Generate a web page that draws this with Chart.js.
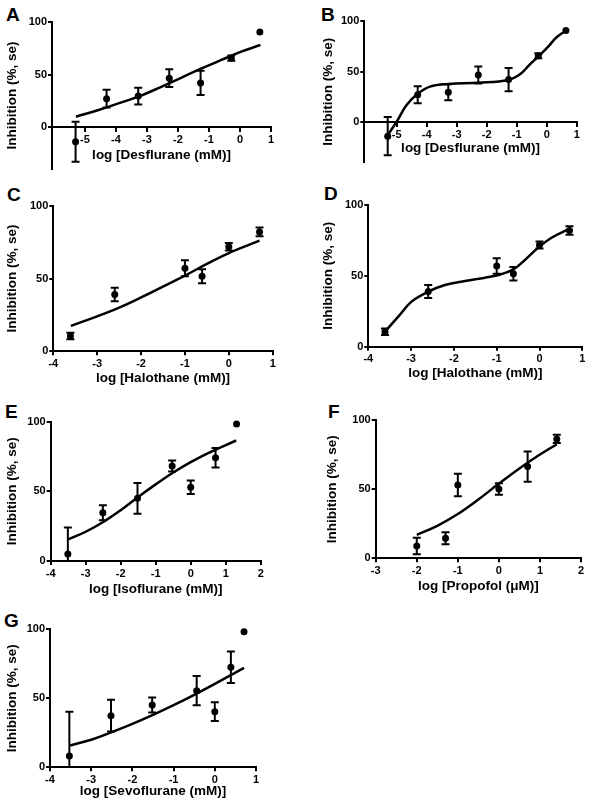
<!DOCTYPE html>
<html>
<head>
<meta charset="utf-8">
<script src="https://cdn.jsdelivr.net/npm/chart.js@4"></script>
<style>
  html, body { margin: 0; padding: 0; background: #fff; }
  body { position: relative; width: 591px; height: 803px; overflow: hidden; }
  canvas { position: absolute; }
  .tag { position: absolute; font: bold 19px/19px 'Liberation Sans', Arial, sans-serif; color: #000; }
</style>
</head>
<body>
<div class="tag" style="left:6px;top:5px">A</div>
<div class="tag" style="left:321px;top:5px">B</div>
<div class="tag" style="left:7px;top:185px">C</div>
<div class="tag" style="left:324px;top:184px">D</div>
<div class="tag" style="left:5px;top:402px">E</div>
<div class="tag" style="left:328px;top:402px">F</div>
<div class="tag" style="left:4px;top:611px">G</div>
<script>
// desflurane (A, B)
const desfluraneX = [-5.3, -4.3, -3.28, -2.28, -1.27, -0.28, 0.64];
const desfluraneY = [-14, 27, 29.5, 46.5, 42, 65.5, 90.5];
const desfluraneErr = [19, 8.5, 8, 8.5, 11.5, 2.5, 0];
const desfluraneFitAX = [-5.29, -4.56, -3.92, -3.28, -2.59, -1.9, -1.26, -0.62, 0.02, 0.66];
const desfluraneFitAY = [9.8, 16.2, 22.5, 28.9, 37.5, 46.8, 55.5, 63.6, 71.5, 78.1];
const desfluraneFitBX = [-5.31, -5.0, -4.67, -4.31, -3.89, -3.28, -2.28, -1.28, -0.89, -0.56, -0.26, 0.05, 0.33, 0.64];
const desfluraneFitBY = [-13.5, 0.3, 16.8, 27.7, 35, 37.6, 38.9, 41.6, 47.2, 57.1, 65.3, 74.6, 83.9, 90.4];
const desfluraneTicks = [-5, -4, -3, -2, -1, 0, 1];

// halothane (C, D)
const halothaneX = [-3.61, -2.6, -1.0, -0.61, 0, 0.7];
const halothaneY = [10.5, 39, 57, 51.5, 71.8, 82];
const halothaneErr = [2.3, 4.6, 5.5, 4.8, 2.5, 3];
const halothaneFitCX = [-3.6, -3, -2.5, -2, -1.5, -1, -0.5, 0, 0.7];
const halothaneFitCY = [17.5, 24, 30, 37, 44.5, 52, 60, 67.5, 76];
const halothaneFitDX = [-3.61, -3.3, -2.99, -2.6, -2.21, -1.74, -1.27, -0.96, -0.61, -0.34, -0.03, 0.28, 0.67];
const halothaneFitDY = [10.6, 21.2, 31.8, 38.8, 43.5, 46.4, 48.7, 50.6, 54.6, 61.2, 69.9, 76.9, 82.8];
const halothaneTicks = [-4, -3, -2, -1, 0, 1];

// isoflurane (E)
const isofluraneX = [-3.51, -2.51, -1.52, -0.53, 0, 0.71, 1.31];
const isofluraneY = [5, 34.7, 45, 68.2, 52.9, 74.2, 98.3];
const isofluraneErr = [19, 5.4, 11, 4, 4.8, 7, 0];
const isofluraneFitX = [-3.5, -3, -2.5, -2, -1.5, -1, -0.5, 0, 0.5, 1.3];
const isofluraneFitY = [15.5, 21, 28, 36.5, 46, 55, 63.5, 71, 77.5, 86.5];
const isofluraneTicks = [-4, -3, -2, -1, 0, 1, 2];

// propofol (F)
const propofolX = [-2, -1.3, -1, 0, 0.7, 1.41];
const propofolY = [8.9, 14.5, 53, 50.1, 66.3, 86.3];
const propofolErr = [5.9, 4.3, 8.2, 4.2, 11, 3];
const propofolFitX = [-2, -1.5, -1, -0.5, 0, 0.5, 1, 1.41];
const propofolFitY = [17, 23.5, 32, 42.5, 54, 65, 75, 82.5];
const propofolTicks = [-3, -2, -1, 0, 1, 2];

// sevoflurane (G)
const sevofluraneX = [-3.53, -2.52, -1.52, -0.44, 0, 0.39, 0.71];
const sevofluraneY = [8.2, 37.4, 45.2, 55.5, 40.3, 72.5, 98.3];
const sevofluraneErr = [32, 11.5, 5.4, 10.6, 6.8, 11.4, 0];
const sevofluraneFitX = [-3.53, -3, -2.5, -2, -1.5, -1, -0.5, 0, 0.71];
const sevofluraneFitY = [15.7, 20, 25.5, 31.5, 38, 45, 52.5, 60.5, 72];
const sevofluraneTicks = [-4, -3, -2, -1, 0, 1];

const yTicks = [0, 50, 100];

const FONT = "'Liberation Sans', Arial, sans-serif";

function toPoints(xs, ys) {
  return xs.map(function (x, i) { return { x: x, y: ys[i] }; });
}

// vertical error bars with caps, cut at the plot area bottom
const errorBars = {
  id: 'errorBars',
  afterDatasetsDraw: function (chart) {
    const ctx = chart.ctx;
    const xs = chart.scales.x;
    const ys = chart.scales.y;
    const area = chart.chartArea;
    const ds = chart.data.datasets[0];
    ctx.save();
    ctx.beginPath();
    ctx.rect(area.left - 10, area.top - 10, area.right - area.left + 20, area.bottom - area.top + 10);
    ctx.clip();
    ctx.strokeStyle = '#000';
    ctx.lineWidth = 2;
    ds.data.forEach(function (p, i) {
      const e = ds.errors[i];
      if (!e) return;
      const x = xs.getPixelForValue(p.x);
      const y1 = ys.getPixelForValue(p.y + e);
      const y2 = ys.getPixelForValue(p.y - e);
      ctx.beginPath();
      ctx.moveTo(x, y1); ctx.lineTo(x, y2);
      ctx.moveTo(x - 4, y1); ctx.lineTo(x + 4, y1);
      ctx.moveTo(x - 4, y2); ctx.lineTo(x + 4, y2);
      ctx.stroke();
    });
    ctx.restore();
  }
};

function makePanel(p) {
  var canvas = document.createElement('canvas');
  canvas.width = p.box[2];
  canvas.height = p.box[3];
  canvas.style.left = p.box[0] + 'px';
  canvas.style.top = p.box[1] + 'px';
  document.body.appendChild(canvas);

  var grid = { display: true, drawOnChartArea: false, drawTicks: true, tickLength: 4, color: '#000', lineWidth: 2 };
  var tickFont = { family: FONT, size: 11, weight: 'bold' };
  var titleFont = { family: FONT, size: 13.5, weight: 'bold' };

  new Chart(canvas, {
    type: 'scatter',
    data: {
      datasets: [
        {
          data: toPoints(p.x, p.y),
          errors: p.err,
          pointRadius: 3.5,
          pointHoverRadius: 3.5,
          backgroundColor: '#000',
          borderColor: '#000',
          borderWidth: 0,
          clip: false
        },
        {
          data: toPoints(p.fitX, p.fitY),
          showLine: true,
          pointRadius: 0,
          borderColor: '#000',
          borderWidth: 2.5,
          tension: 0.4,
          clip: false
        }
      ]
    },
    options: {
      responsive: false,
      animation: false,
      events: [],
      layout: { autoPadding: false, padding: { left: 0, top: p.top, right: p.right, bottom: p.bottom } },
      plugins: { legend: { display: false }, tooltip: { enabled: false } },
      scales: {
        x: {
          type: 'linear',
          min: p.xMin,
          max: p.xMax,
          position: p.xAtZero ? { y: 0 } : 'bottom',
          afterBuildTicks: function (s) { s.ticks = p.xTicks.map(function (v) { return { value: v }; }); },
          afterFit: function (s) { s.height = p.xHeight; },
          grid: grid,
          border: { display: true, color: '#000', width: 2 },
          ticks: { color: '#000', font: tickFont, padding: 2, maxRotation: 0, autoSkip: false },
          title: { display: true, text: p.xTitle, color: '#000', font: titleFont }
        },
        y: {
          type: 'linear',
          min: p.yMin,
          max: 100,
          afterBuildTicks: function (s) { s.ticks = yTicks.map(function (v) { return { value: v }; }); },
          afterFit: function (s) { s.width = p.yWidth; },
          grid: grid,
          border: { display: true, color: '#000', width: 2 },
          ticks: { color: '#000', font: tickFont, padding: 1 },
          title: { display: true, text: 'Inhibition (%, se)', color: '#000', font: titleFont }
        }
      }
    },
    plugins: [errorBars]
  });
}

makePanel({
  box: [0, 0, 295, 200], top: 22, right: 24, bottom: 31, yWidth: 52, xHeight: 40.1,
  xMin: -6.06, xMax: 1, yMin: -40, xAtZero: true, xTicks: desfluraneTicks,
  x: desfluraneX, y: desfluraneY, err: desfluraneErr, fitX: desfluraneFitAX, fitY: desfluraneFitAY,
  xTitle: 'log [Desflurane (mM)]'
});
makePanel({
  box: [316, 0, 275, 200], top: 21, right: 14.3, bottom: 37.6, yWidth: 48.3, xHeight: 38.1,
  xMin: -6.08, xMax: 1, yMin: -40, xAtZero: true, xTicks: desfluraneTicks,
  x: desfluraneX, y: desfluraneY, err: desfluraneErr, fitX: desfluraneFitBX, fitY: desfluraneFitBY,
  xTitle: 'log [Desflurane (mM)]'
});
makePanel({
  box: [0, 190, 295, 205], top: 15.7, right: 22.3, bottom: 4.9, yWidth: 53.3, xHeight: 38.8,
  xMin: -4, xMax: 1, yMin: 0, xAtZero: false, xTicks: halothaneTicks,
  x: halothaneX, y: halothaneY, err: halothaneErr, fitX: halothaneFitCX, fitY: halothaneFitCY,
  xTitle: 'log [Halothane (mM)]'
});
makePanel({
  box: [316, 190, 275, 205], top: 15, right: 8.7, bottom: 9.9, yWidth: 52.3, xHeight: 38.4,
  xMin: -4, xMax: 1, yMin: 0, xAtZero: false, xTicks: halothaneTicks,
  x: halothaneX, y: halothaneY, err: halothaneErr, fitX: halothaneFitDX, fitY: halothaneFitDY,
  xTitle: 'log [Halothane (mM)]'
});
makePanel({
  box: [0, 400, 295, 205], top: 21.7, right: 34.3, bottom: 3.9, yWidth: 50.7, xHeight: 40.1,
  xMin: -4, xMax: 2, yMin: 0, xAtZero: false, xTicks: isofluraneTicks,
  x: isofluraneX, y: isofluraneY, err: isofluraneErr, fitX: isofluraneFitX, fitY: isofluraneFitY,
  xTitle: 'log [Isoflurane (mM)]'
});
makePanel({
  box: [320, 400, 271, 205], top: 20, right: 10, bottom: 6.9, yWidth: 55.7, xHeight: 39.8,
  xMin: -3, xMax: 2, yMin: 0, xAtZero: false, xTicks: propofolTicks,
  x: propofolX, y: propofolY, err: propofolErr, fitX: propofolFitX, fitY: propofolFitY,
  xTitle: 'log [Propofol (\u03bcM)]'
});
makePanel({
  box: [0, 610, 295, 194], top: 19.3, right: 39, bottom: 0.2, yWidth: 50, xHeight: 36.5,
  xMin: -4, xMax: 1, yMin: 0, xAtZero: false, xTicks: sevofluraneTicks,
  x: sevofluraneX, y: sevofluraneY, err: sevofluraneErr, fitX: sevofluraneFitX, fitY: sevofluraneFitY,
  xTitle: 'log [Sevoflurane (mM)]'
});
</script>
</body>
</html>
